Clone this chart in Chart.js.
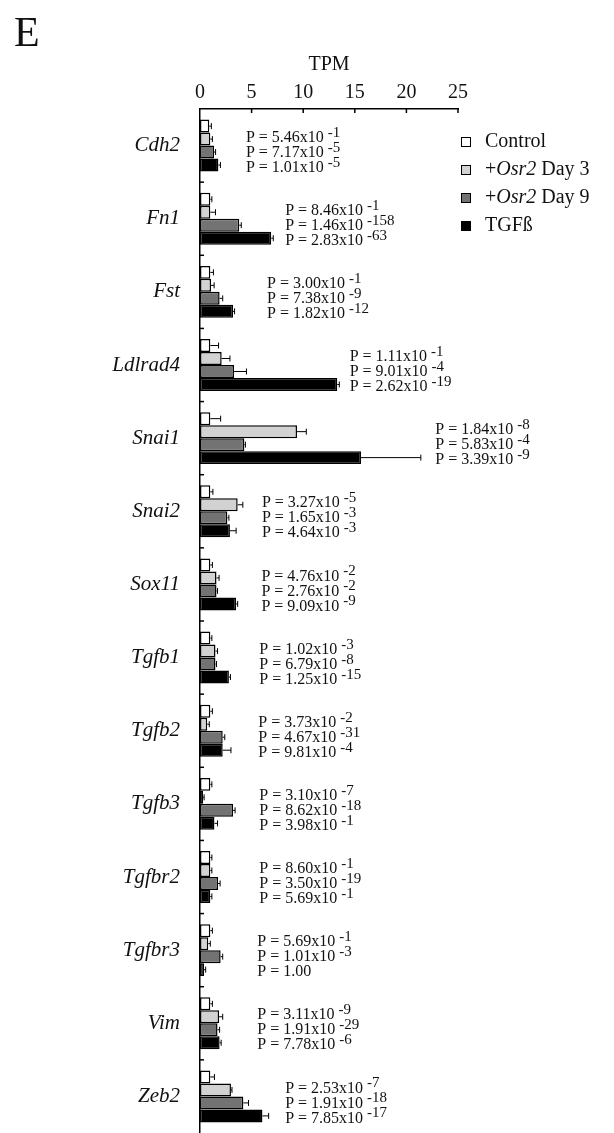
<!DOCTYPE html>
<html lang="en">
<head>
    <meta charset="UTF-8">
    <title>TPM by gene</title>
    <style>
        body {
            margin: 0;
            background: #fff;
        }
        .wrap {
            width: 614px;
            height: 1133px;
        }
    </style>
</head>
<body>
    <div class="wrap">
        <canvas id="tpmChart" width="614" height="1133"></canvas>
    </div>
    <script src="https://cdn.jsdelivr.net/npm/chart.js"></script>
    <script>
        // genes, top to bottom
        const genes = ['Cdh2', 'Fn1', 'Fst', 'Ldlrad4', 'Snai1', 'Snai2', 'Sox11',
            'Tgfb1', 'Tgfb2', 'Tgfb3', 'Tgfbr2', 'Tgfbr3', 'Vim', 'Zeb2'];
        const xTicks = [0, 5, 10, 15, 20, 25];

        // mean TPM per group
        const control = [0.9, 1.0, 1.0, 1.0, 1.0, 1.0, 1.0, 1.0, 1.0, 1.0, 1.0, 1.0, 1.0, 1.0];
        const osrDay3 = [1.0, 1.0, 1.07, 2.1, 9.4, 3.65, 1.6, 1.5, 0.7, 0.3, 1.0, 0.8, 1.85, 3.0];
        const osrDay9 = [1.36, 3.8, 1.9, 3.3, 4.3, 2.65, 1.6, 1.5, 2.2, 3.2, 1.75, 2.0, 1.7, 4.2];
        const tgfb = [1.78, 6.9, 3.2, 13.3, 15.6, 2.9, 3.5, 2.8, 2.2, 1.4, 1.0, 0.4, 1.9, 6.05];

        // error (one side)
        const controlErr = [0.2, 0.15, 0.3, 0.8, 1.0, 0.25, 0.2, 0.15, 0.2, 0.15, 0.15, 0.2, 0.2, 0.4];
        const osrDay3Err = [0.2, 0.5, 0.3, 0.8, 0.9, 0.5, 0.25, 0.2, 0.2, 0.1, 0.15, 0.2, 0.35, 0.1];
        const osrDay9Err = [0.15, 0.2, 0.3, 1.2, 0.1, 0.15, 0.1, 0.1, 0.2, 0.2, 0.2, 0.2, 0.2, 0.5];
        const tgfbErr = [0.2, 0.2, 0.15, 0.2, 5.8, 0.6, 0.15, 0.15, 0.8, 0.3, 0.15, 0.15, 0.15, 0.6];

        // p values: mantissa|exponent, three per gene
        const pValues = [
            ['5.46|-1', '7.17|-5', '1.01|-5'],
            ['8.46|-1', '1.46|-158', '2.83|-63'],
            ['3.00|-1', '7.38|-9', '1.82|-12'],
            ['1.11|-1', '9.01|-4', '2.62|-19'],
            ['1.84|-8', '5.83|-4', '3.39|-9'],
            ['3.27|-5', '1.65|-3', '4.64|-3'],
            ['4.76|-2', '2.76|-2', '9.09|-9'],
            ['1.02|-3', '6.79|-8', '1.25|-15'],
            ['3.73|-2', '4.67|-31', '9.81|-4'],
            ['3.10|-7', '8.62|-18', '3.98|-1'],
            ['8.60|-1', '3.50|-19', '5.69|-1'],
            ['5.69|-1', '1.01|-3', '1.00'],
            ['3.11|-9', '1.91|-29', '7.78|-6'],
            ['2.53|-7', '1.91|-18', '7.85|-17']
        ];
        // where each p-value block starts, in TPM
        const pAt = [4.45, 8.25, 6.5, 14.5, 22.8, 6.0, 5.95, 5.75, 5.65, 5.75, 5.75, 5.55, 5.55, 8.25];

        const seriesNames = ['Control', '+Osr2 Day 3', '+Osr2 Day 9', 'TGFß'];
        const colors = ['#ffffff', '#d2d2d2', '#737373', '#000000'];
        const errors = [controlErr, osrDay3Err, osrDay9Err, tgfbErr];

        const serif = "'Liberation Serif', 'Times New Roman', serif";

        const extras = {
            id: 'extras',
            afterDatasetsDraw(chart) {
                const ctx = chart.ctx;
                const x = chart.scales.x;
                const y = chart.scales.y;
                const area = chart.chartArea;
                ctx.save();
                ctx.strokeStyle = '#000';
                ctx.lineWidth = 1;

                // error bars
                chart.data.datasets.forEach((ds, di) => {
                    chart.getDatasetMeta(di).data.forEach((bar, i) => {
                        const end = x.getPixelForValue(ds.data[i] + errors[di][i]);
                        ctx.beginPath();
                        ctx.moveTo(bar.x, bar.y);
                        ctx.lineTo(end, bar.y);
                        ctx.moveTo(end, bar.y - 3);
                        ctx.lineTo(end, bar.y + 3);
                        ctx.stroke();
                    });
                });

                // inner tick marks
                ctx.lineWidth = 1.5;
                for (let i = 1; i < genes.length; i++) {
                    const yy = (y.getPixelForValue(i - 1) + y.getPixelForValue(i)) / 2;
                    ctx.beginPath();
                    ctx.moveTo(area.left, yy);
                    ctx.lineTo(area.left + 4, yy);
                    ctx.stroke();
                }
                xTicks.slice(1).forEach(t => {
                    const xx = x.getPixelForValue(t);
                    ctx.beginPath();
                    ctx.moveTo(xx, area.top);
                    ctx.lineTo(xx, area.top + 4);
                    ctx.stroke();
                });

                // p values
                ctx.fillStyle = '#111';
                ctx.textBaseline = 'middle';
                ctx.textAlign = 'left';
                genes.forEach((g, i) => {
                    const cy = y.getPixelForValue(i);
                    const px = x.getPixelForValue(pAt[i]);
                    [-8, 7, 22].forEach((off, k) => {
                        const parts = pValues[i][k].split('|');
                        const main = parts[1] ? 'P = ' + parts[0] + 'x10' : 'P = ' + parts[0];
                        ctx.font = '16px ' + serif;
                        ctx.fillText(main, px, cy + off);
                        if (parts[1]) {
                            const w = ctx.measureText(main).width;
                            ctx.font = '15px ' + serif;
                            ctx.fillText(parts[1], px + w + 4, cy + off - 5);
                        }
                    });
                });

                // legend
                const legY = [142, 170, 198, 226];
                seriesNames.forEach((name, i) => {
                    ctx.fillStyle = colors[i];
                    ctx.fillRect(461, legY[i] - 5, 10, 10);
                    ctx.lineWidth = 1;
                    ctx.strokeRect(461.5, legY[i] - 4.5, 9, 9);
                    ctx.fillStyle = '#111';
                    let tx = 485;
                    if (name.startsWith('+Osr2')) {
                        ctx.font = '20px ' + serif;
                        ctx.fillText('+', tx, legY[i]);
                        tx += ctx.measureText('+').width;
                        ctx.font = 'italic 20px ' + serif;
                        ctx.fillText('Osr2', tx, legY[i]);
                        tx += ctx.measureText('Osr2').width;
                        ctx.font = '20px ' + serif;
                        ctx.fillText(name.slice(5), tx, legY[i]);
                    } else {
                        ctx.font = '20px ' + serif;
                        ctx.fillText(name, tx, legY[i]);
                    }
                });

                // panel letter
                ctx.font = '42px ' + serif;
                ctx.textBaseline = 'alphabetic';
                ctx.fillText('E', 14, 46);
                ctx.restore();
            }
        };

        new Chart(document.getElementById('tpmChart'), {
            type: 'bar',
            data: {
                labels: genes,
                datasets: seriesNames.map((name, i) => ({
                    label: name,
                    data: [control, osrDay3, osrDay9, tgfb][i],
                    backgroundColor: colors[i],
                    borderColor: '#000',
                    borderWidth: 1.5,
                    borderSkipped: false,
                    barPercentage: 1.0,
                    categoryPercentage: 0.71
                }))
            },
            options: {
                indexAxis: 'y',
                responsive: false,
                animation: false,
                layout: { padding: { top: 49, right: 156, bottom: 0, left: 0 } },
                plugins: {
                    legend: { display: false },
                    tooltip: { enabled: false }
                },
                scales: {
                    x: {
                        position: 'top',
                        min: 0,
                        max: 25,
                        afterBuildTicks: s => { s.ticks = xTicks.map(v => ({ value: v })); },
                        afterFit: s => {
                            s.height = 60;
                            s.paddingLeft = 0;
                            s.paddingRight = 0;
                        },
                        grid: { display: false, drawTicks: false },
                        border: { display: true, color: '#000', width: 1.5 },
                        ticks: {
                            padding: 4,
                            color: '#111',
                            font: { family: serif, size: 20 }
                        },
                        title: {
                            display: true,
                            text: 'TPM',
                            color: '#111',
                            font: { family: serif, size: 20 }
                        }
                    },
                    y: {
                        afterFit: s => {
                            s.width = 200;
                            s.paddingTop = 0;
                            s.paddingBottom = 0;
                        },
                        grid: { display: false, drawTicks: false },
                        border: { display: true, color: '#000', width: 1.5 },
                        ticks: {
                            padding: 20,
                            color: '#111',
                            font: { family: serif, size: 21, style: 'italic' }
                        }
                    }
                }
            },
            plugins: [extras]
        });
    </script>
</body>
</html>
